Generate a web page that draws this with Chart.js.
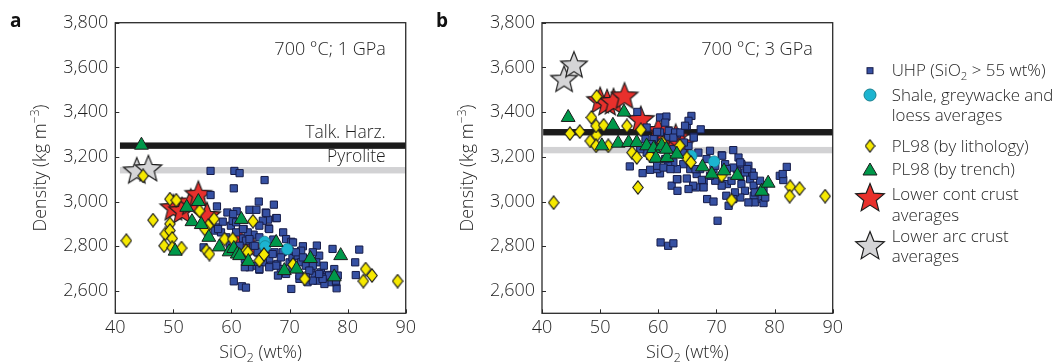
<!DOCTYPE html>
<html>
<head>
<meta charset="utf-8">
<script src="https://cdn.jsdelivr.net/npm/chart.js@4.4.1/dist/chart.umd.min.js"></script>
<style>
  html, body { margin: 0; padding: 0; background: #fff; overflow: hidden; }
  #wrap { position: relative; width: 1057px; height: 363px; }
  #cA { position: absolute; left: 0; top: 0; }
  #cB { position: absolute; left: 420px; top: 0; }
</style>
</head>
<body>
<div id="wrap">
  <canvas id="cA" width="420" height="363"></canvas>
  <canvas id="cB" width="637" height="363"></canvas>
</div>
<script>
// ---- axis ticks ----
const xTicks = [40, 50, 60, 70, 80, 90];
const yTicks = [2600, 2800, 3000, 3200, 3400, 3600, 3800];

// ---- panel a: 700 °C, 1 GPa  (SiO2 wt%, density kg m-3) ----
const uhpA = [
  [56.4,3137],[60.5,3137],[61.4,3127],[65.7,3096],[60.4,3059],[56.4,3029],[64.7,3000],[67.3,2986],
  [57.5,2978],[63.1,2963],[64.3,2963],[60.9,2956],[65.9,2951],[59.3,2951],[66.3,2919],[67.7,2926],
  [57.6,2884],[58.5,2910],[59.9,2892],[60.2,2914],[62.1,2877],[66.4,2880],[68.9,2862],[55.2,2795],
  [57.1,2870],[62.0,2835],[62.5,2825],[63.8,2852],[64.8,2840],[67.2,2830],[69.4,2832],[70.3,2820],
  [72.3,2800],[74.7,2803],[77.4,2788],[82.0,2785],[81.3,2728],[81.4,2671],[60.4,2643],[61.8,2621],
  [62.5,2615],[70.3,2609],[78.1,2612],[64.0,2713],[64.8,2695],[66.5,2743],[67.4,2773],[67.9,2721],
  [68.5,2698],[70.0,2728],[70.5,2750],[71.4,2758],[72.0,2728],[72.8,2713],[73.7,2691],[74.3,2669],
  [74.8,2646],[75.4,2683],[75.9,2713],[76.5,2654],[77.1,2639],[76.0,2631],[75.1,2758],[74.0,2773],
  [78.0,2640],[76.5,2672],[73.1,2639],[71.7,2654],[69.4,2676],[68.0,2669],[66.8,2713],[65.4,2728],
  [63.1,2706],[62.3,2743],[61.4,2802],[60.5,2780],[59.7,2810],[59.1,2840],[58.2,2862],[57.7,2877],
  [60.8,2862],[62.8,2862],[63.7,2803],[64.5,2773],[66.0,2788],[68.8,2773],[70.0,2780],[72.0,2780],
  [73.1,2743],[74.6,2728],[70.5,2698],[74.0,2646],[77.7,2698],[77.4,2669],[78.3,2669],[75.7,2661],
  [67.8,2926],[70.6,2817],[66.0,2948],[65.4,2914],[60.3,2944],[60.8,2907],[62.0,2877],[64.8,2892],
  [66.5,2877],[63.1,2832],[64.0,2802],[67.1,2765],[68.5,2750],[71.1,2773],[72.3,2750],[74.0,2713],
  [76.8,2669],[78.0,2646],[75.7,2654],[73.4,2691],[72.8,2661],[71.7,2669],[67.7,2713],[66.5,2706],
  [62.3,2706],[64.8,2698],[75.1,2676]
];
const shaleA = [[65.7,2820],[65.8,2800],[69.6,2787]];
const lithA = [
  [41.9,2825],[44.8,3115],[46.5,2917],[49.4,3011],[50.5,3006],[49.4,2900],[48.6,2855],[49.4,2870],
  [49.8,2835],[48.4,2802],[49.8,2793],[51.4,2792],[54.5,2958],[57.0,2922],[56.0,2892],[55.4,2877],
  [55.7,2780],[56.2,2765],[58.8,2832],[60.2,2832],[63.7,2912],[62.5,2780],[62.8,2773],[64.8,2736],
  [65.6,2763],[70.6,2718],[72.6,2654],[83.1,2698],[82.7,2644],[84.2,2669],[88.6,2644]
];
const trenchA = [
  [44.5,3252],[50.3,2778],[52.3,2974],[53.2,2910],[54.3,3000],[54.8,2897],[56.1,2840],[57.9,2797],
  [59.6,2775],[60.4,2790],[61.0,2765],[61.7,2920],[61.4,2758],[62.9,2732],[67.7,2817],[69.1,2691],
  [71.2,2698],[73.6,2745],[77.7,2663],[78.8,2758]
];
const lowerContA = [[50.0,2975],[51.5,2962],[53.0,3000],[54.3,3035],[55.8,2940],[61.4,2830],[63.5,2800]];
const lowerArcA = [[43.7,3140],[45.7,3150]];
const bandValuesA = [3250, 3140];
const bandNamesA = ['Talk. Harz.', 'Pyrolite'];

// ---- panel b: 700 °C, 3 GPa ----
const uhpB = [
  [55.1,3157],[57.3,3127],[56.4,3401],[60.3,3376],[61.4,3380],[65.7,3383],[64.9,3338],[65.2,3361],
  [67.3,3323],[66.1,3290],[63.2,3301],[61.7,3290],[60.3,3309],[62.3,3071],[63.3,3048],[63.3,3100],
  [64.9,3103],[60.3,3126],[59.8,3145],[58.6,3142],[66.5,3063],[66.0,3071],[68.4,3011],[69.5,3000],
  [70.2,2914],[68.9,3227],[70.9,3207],[72.9,3230],[73.8,3197],[80.9,3115],[82.1,3155],[81.5,3096],
  [60.4,2817],[61.7,2802],[62.6,2813],[70.6,3100],[71.8,3078],[72.6,3093],[73.5,3145],[74.1,3115],
  [74.3,3078],[74.9,3048],[75.5,3160],[75.8,3100],[76.1,3130],[76.4,3071],[76.4,3026],[76.6,2996],
  [77.5,3093],[77.8,3011],[78.1,2993],[77.5,3048],[75.5,2996],[74.1,3018],[73.2,3041],[72.1,2981],
  [71.7,3026],[72.9,3011],[70.9,3071],[69.8,3093],[68.9,3115],[67.8,3093],[66.6,3123],[67.2,3145],
  [65.5,3145],[64.3,3167],[63.2,3145],[62.6,3175],[61.7,3160],[61.2,3190],[59.2,3190],[58.6,3204],
  [58.0,3219],[56.9,3234],[59.2,3279],[60.6,3264],[62.6,3234],[64.3,3219],[65.2,3249],[66.9,3219],
  [68.3,3190],[69.5,3145],[71.5,3167],[72.9,3152],[74.3,3167],[76.6,3041],[78.4,3018],[78.1,3056],
  [74.9,3130],[67.8,3063],[67.5,3097],[81.4,3123],[58.0,3331],[61.2,3353],[61.8,3316],[59.8,3312],
  [62.9,3309],[66.1,3286],[64.4,3264],[71.0,3205],[74.1,3175],[75.3,3145],[76.4,3115],[71.8,3145],
  [59.8,3160],[60.9,3152],[62.1,3145],[63.2,3100],[69.8,3160],[66.4,3145],[65.2,3056],[57.8,3279],
  [58.9,3257],[62.6,3286],[63.8,3309],[64.6,3339]
];
const shaleB = [[65.7,3204],[69.6,3179]];
const lithB = [
  [42.0,2995],[44.8,3304],[46.5,3313],[49.4,3470],[48.5,3376],[48.3,3271],[49.4,3297],[49.3,3338],
  [50.6,3341],[49.3,3249],[51.4,3249],[54.6,3338],[57.0,3321],[55.5,3219],[56.3,3197],[56.5,3063],
  [58.6,3204],[60.7,3264],[63.7,3250],[64.9,3195],[65.6,3175],[70.9,3115],[72.6,3006],[82.7,3066],
  [82.6,3024],[84.3,3058],[88.7,3024]
];
const trenchB = [
  [44.5,3376],[52.2,3341],[50.3,3249],[54.1,3400],[53.1,3261],[54.9,3264],[56.3,3264],[58.0,3249],
  [59.2,3237],[59.6,3194],[60.6,3249],[61.5,3197],[61.4,3234],[63.2,3212],[67.6,3155],[69.2,3123],
  [71.3,3137],[73.6,3117],[77.8,3046],[78.9,3082]
];
const lowerContB = [[50.0,3455],[51.2,3445],[52.3,3450],[54.2,3475],[57.0,3370],[60.0,3320],[61.0,3305],[63.0,3290],[64.0,3260]];
const lowerArcB = [[43.8,3550],[45.5,3614]];
const bandValuesB = [3310, 3230];
const bandNamesB = ['', ''];

// ---- legend ----
const legendLabels = [
  ['UHP (SiO₂ > 55 wt%)'],
  ['Shale, greywacke and', 'loess averages'],
  ['PL98 (by lithology)'],
  ['PL98 (by trench)'],
  ['Lower cont crust', 'averages'],
  ['Lower arc crust', 'averages']
];

// ---- styling ----
const FONT = '"Open Sans", "DejaVu Sans", sans-serif';
const WEIGHT = 300;
const TEXT = '#1f1f1f';
const COL = {
  blue: '#3651a3', blueEdge: '#161c48',
  cyan: '#1cb4d0', cyanEdge: '#17808f',
  yellow: '#f6e900', green: '#00984a', red: '#e8302c', grey: '#d5d5d7', edge: '#1c1c1c'
};
const bandColors = ['#1b1b1b', '#d2d2d4'];

function makeCanvas(w, h) {
  const c = document.createElement('canvas');
  c.width = w; c.height = h;
  return c;
}
function starImage(R, fill) {
  const r = R * 0.44, s = Math.ceil(2 * R + 4);
  const c = makeCanvas(s, s), g = c.getContext('2d');
  g.translate(s / 2, s / 2 + R * 0.1);
  g.beginPath();
  for (let i = 0; i < 10; i++) {
    const a = -Math.PI / 2 + i * Math.PI / 5, rr = i % 2 ? r : R;
    g.lineTo(rr * Math.cos(a), rr * Math.sin(a));
  }
  g.closePath();
  g.fillStyle = fill; g.fill();
  g.lineWidth = 1.2; g.strokeStyle = COL.edge; g.lineJoin = 'miter'; g.stroke();
  return c;
}
function diamondImage(w, h) {
  const c = makeCanvas(w, h), g = c.getContext('2d');
  g.beginPath();
  g.moveTo(w / 2, 0.8); g.lineTo(w - 0.8, h / 2); g.lineTo(w / 2, h - 0.8); g.lineTo(0.8, h / 2);
  g.closePath();
  g.fillStyle = COL.yellow; g.fill();
  g.lineWidth = 1.1; g.strokeStyle = COL.edge; g.stroke();
  return c;
}
const imgStarRed = starImage(14, COL.red);
const imgStarGrey = starImage(14, COL.grey);
const imgDiamond = diamondImage(12, 15);
const imgStarRedL = starImage(15, COL.red);
const imgStarGreyL = starImage(15, COL.grey);
const imgDiamondL = diamondImage(11, 14);

const pts = arr => arr.map(([x, y]) => ({ x, y }));

function datasetsFor(p) {
  return [
    { label: 'PL98 (by trench)', data: pts(p.trench), order: 1, pointStyle: 'triangle', pointRadius: 8,
      backgroundColor: COL.green, borderColor: COL.edge, borderWidth: 1 },
    { label: 'PL98 (by lithology)', data: pts(p.lith), order: 2, pointStyle: imgDiamond, pointRadius: 6,
      backgroundColor: COL.yellow, borderColor: COL.edge },
    { label: 'Shale, greywacke and loess averages', data: pts(p.shale), order: 3, pointStyle: 'circle', pointRadius: 5.6,
      backgroundColor: COL.cyan, borderColor: COL.cyanEdge, borderWidth: 0.8 },
    { label: 'UHP (SiO2 > 55 wt%)', data: pts(p.uhp), order: 4, pointStyle: 'rect', pointRadius: 5.1,
      backgroundColor: COL.blue, borderColor: COL.blueEdge, borderWidth: 1 },
    { label: 'Lower cont crust averages', data: pts(p.lowerCont), order: 5, pointStyle: imgStarRed, pointRadius: 12,
      backgroundColor: COL.red, borderColor: COL.edge },
    { label: 'Lower arc crust averages', data: pts(p.lowerArc), order: 6, pointStyle: imgStarGrey, pointRadius: 12,
      backgroundColor: COL.grey, borderColor: COL.edge }
  ];
}

// text with sub/superscript characters rendered as small shifted glyphs
function richSegments(str) {
  const map = { '₂': ['2', 'sub'], '⁻': ['−', 'sup'], '³': ['3', 'sup'] };
  const segs = [];
  for (const ch of str) {
    const m = map[ch], kind = m ? m[1] : 'base', c = m ? m[0] : ch;
    const last = segs[segs.length - 1];
    if (last && last.kind === kind) last.t += c; else segs.push({ t: c, kind });
  }
  return segs;
}
function drawRich(ctx, str, x, y, size, align, weight) {
  const segs = richSegments(str);
  const small = size * 0.68;
  const w = weight || WEIGHT;
  let total = 0;
  segs.forEach(s => {
    ctx.font = `${w} ${s.kind === 'base' ? size : small}px ${FONT}`;
    s.w = ctx.measureText(s.t).width; total += s.w;
  });
  let cx = align === 'center' ? x - total / 2 : align === 'right' ? x - total : x;
  ctx.textAlign = 'left';
  ctx.textBaseline = 'alphabetic';
  segs.forEach(s => {
    ctx.font = `${w} ${s.kind === 'base' ? size : small}px ${FONT}`;
    const dy = s.kind === 'sub' ? size * 0.24 : s.kind === 'sup' ? -size * 0.4 : 0;
    ctx.fillText(s.t, cx, y + dy);
    cx += s.w;
  });
}

// bands behind the markers
const bandsPlugin = {
  id: 'bands',
  beforeDatasetsDraw(chart) {
    const p = chart.options.plugins.bands;
    const { ctx, chartArea, scales } = chart;
    const x0 = scales.x.getPixelForValue(p.start);
    ctx.save();
    p.values.forEach((v, i) => {
      const y = scales.y.getPixelForValue(v);
      ctx.fillStyle = bandColors[i];
      ctx.fillRect(x0, y - 3.2, chartArea.right - x0, 6.4);
    });
    ctx.restore();
  },
  afterDraw(chart) {
    const p = chart.options.plugins.bands;
    const { ctx, chartArea, scales } = chart;
    ctx.save();
    ctx.fillStyle = TEXT;
    p.values.forEach((v, i) => {
      if (!p.names[i]) return;
      const y = scales.y.getPixelForValue(v);
      drawRich(ctx, p.names[i], chartArea.right - 20, y - 8, 17.5, 'right');
    });
    ctx.restore();
  }
};

// frame, inward tick marks, panel letter, condition note and axis titles
const framePlugin = {
  id: 'frame',
  afterDraw(chart) {
    const p = chart.options.plugins.frame;
    const { ctx, chartArea: a, scales } = chart;
    ctx.save();
    ctx.strokeStyle = '#2a2a2a';
    ctx.lineWidth = 1.3;
    ctx.strokeRect(a.left, a.top, a.right - a.left, a.bottom - a.top);
    ctx.lineWidth = 1;
    ctx.beginPath();
    xTicks.forEach(v => {
      const x = Math.round(scales.x.getPixelForValue(v)) + 0.5;
      ctx.moveTo(x, a.bottom); ctx.lineTo(x, a.bottom - 4);
    });
    yTicks.forEach(v => {
      const y = Math.round(scales.y.getPixelForValue(v)) + 0.5;
      ctx.moveTo(a.left, y); ctx.lineTo(a.left + 4, y);
    });
    ctx.stroke();

    ctx.fillStyle = '#111';
    ctx.font = `700 19px ${FONT}`;
    ctx.textAlign = 'left';
    ctx.textBaseline = 'alphabetic';
    ctx.fillText(p.letter, p.letterX, 27);

    ctx.fillStyle = TEXT;
    drawRich(ctx, p.note, a.right - 20, 55, 18, 'right');
    drawRich(ctx, 'SiO₂ (wt%)', (a.left + a.right) / 2, 358, 18, 'center');
    ctx.translate(a.left - 69, (a.top + a.bottom) / 2);
    ctx.rotate(-Math.PI / 2);
    drawRich(ctx, 'Density (kg m⁻³)', 0, 0, 18, 'center');
    ctx.restore();
  }
};

// legend column to the right of panel b
const legendPlugin = {
  id: 'sideLegend',
  afterDraw(chart) {
    const opts = chart.options.plugins.sideLegend;
    if (!opts || !opts.show) return;
    const ctx = chart.ctx;
    const mx = opts.markerX, tx = opts.textX;
    const rows = opts.rows;
    ctx.save();
    const draw = {
      square(y) {
        ctx.fillStyle = COL.blue; ctx.strokeStyle = COL.blueEdge; ctx.lineWidth = 1;
        ctx.fillRect(mx - 3, y - 3, 6, 6); ctx.strokeRect(mx - 3, y - 3, 6, 6);
      },
      circle(y) {
        ctx.beginPath(); ctx.arc(mx, y, 6, 0, Math.PI * 2);
        ctx.fillStyle = COL.cyan; ctx.fill(); ctx.strokeStyle = COL.cyanEdge; ctx.lineWidth = 1; ctx.stroke();
      },
      diamond(y) { ctx.drawImage(imgDiamondL, mx - imgDiamondL.width / 2, y - imgDiamondL.height / 2); },
      triangle(y) {
        ctx.beginPath(); ctx.moveTo(mx, y - 6.5); ctx.lineTo(mx + 7, y + 5.5); ctx.lineTo(mx - 7, y + 5.5); ctx.closePath();
        ctx.fillStyle = COL.green; ctx.fill(); ctx.strokeStyle = COL.edge; ctx.lineWidth = 1; ctx.stroke();
      },
      red(y) { ctx.drawImage(imgStarRedL, mx - imgStarRedL.width / 2, y - imgStarRedL.height / 2); },
      grey(y) { ctx.drawImage(imgStarGreyL, mx - imgStarGreyL.width / 2, y - imgStarGreyL.height / 2); }
    };
    rows.forEach((r, i) => {
      draw[r.marker](r.markerY);
      ctx.fillStyle = TEXT;
      legendLabels[i].forEach((line, k) => {
        drawRich(ctx, line, tx, r.textY + k * r.lineGap, 16.9, 'left');
      });
    });
    ctx.restore();
  }
};

function panelOptions(p) {
  return {
    responsive: false,
    animation: false,
    events: [],
    layout: { padding: p.padding },
    plugins: {
      legend: { display: false },
      tooltip: { enabled: false },
      bands: { values: p.bandValues, names: p.bandNames, start: p.bandStart },
      frame: { letter: p.letter, letterX: p.letterX, note: p.note },
      sideLegend: p.legend
    },
    scales: {
      x: {
        type: 'linear', min: 40, max: 90,
        afterBuildTicks: s => { s.ticks = xTicks.map(v => ({ value: v })); },
        afterFit: s => { s.height = 49.7; },
        ticks: { autoSkip: false, maxRotation: 0, padding: 4, color: TEXT,
                 font: { family: FONT, size: 18, weight: WEIGHT } },
        grid: { display: false, drawTicks: false },
        border: { display: false }
      },
      y: {
        type: 'linear', min: 2500, max: 3800,
        afterBuildTicks: s => { s.ticks = yTicks.map(v => ({ value: v })); },
        afterFit: s => { s.width = p.yWidth; },
        ticks: {
          autoSkip: false, padding: 7, color: TEXT, font: { family: FONT, size: 18, weight: WEIGHT },
          callback: v => v.toLocaleString('en-US')
        },
        grid: { display: false, drawTicks: false },
        border: { display: false }
      }
    }
  };
}

new Chart(document.getElementById('cA'), {
  type: 'scatter',
  data: { datasets: datasetsFor({ uhp: uhpA, shale: shaleA, lith: lithA, trench: trenchA, lowerCont: lowerContA, lowerArc: lowerArcA }) },
  options: panelOptions({
    padding: { left: 0, top: 22.7, right: 13.3, bottom: 0 },
    yWidth: 115.3, letter: 'a', letterX: 10, note: '700 °C; 1 GPa',
    bandValues: bandValuesA, bandNames: bandNamesA, bandStart: 40.8,
    legend: { show: false }
  }),
  plugins: [bandsPlugin, framePlugin, legendPlugin]
});

new Chart(document.getElementById('cB'), {
  type: 'scatter',
  data: { datasets: datasetsFor({ uhp: uhpB, shale: shaleB, lith: lithB, trench: trenchB, lowerCont: lowerContB, lowerArc: lowerArcB }) },
  options: panelOptions({
    padding: { left: 0, top: 22.7, right: 224.3, bottom: 0 },
    yWidth: 122, letter: 'b', letterX: 16, note: '700 °C; 3 GPa',
    bandValues: bandValuesB, bandNames: bandNamesB, bandStart: 40.2,
    legend: {
      show: true, markerX: 450, textX: 471.7,
      rows: [
        { marker: 'square', markerY: 70.7, textY: 76, lineGap: 20 },
        { marker: 'circle', markerY: 95, textY: 100.5, lineGap: 20.5 },
        { marker: 'diamond', markerY: 146, textY: 151.5, lineGap: 20 },
        { marker: 'triangle', markerY: 169.5, textY: 175, lineGap: 20 },
        { marker: 'red', markerY: 197, textY: 199.5, lineGap: 21 },
        { marker: 'grey', markerY: 245, textY: 241.5, lineGap: 20.5 }
      ]
    }
  }),
  plugins: [bandsPlugin, framePlugin, legendPlugin]
});
</script>
</body>
</html>
